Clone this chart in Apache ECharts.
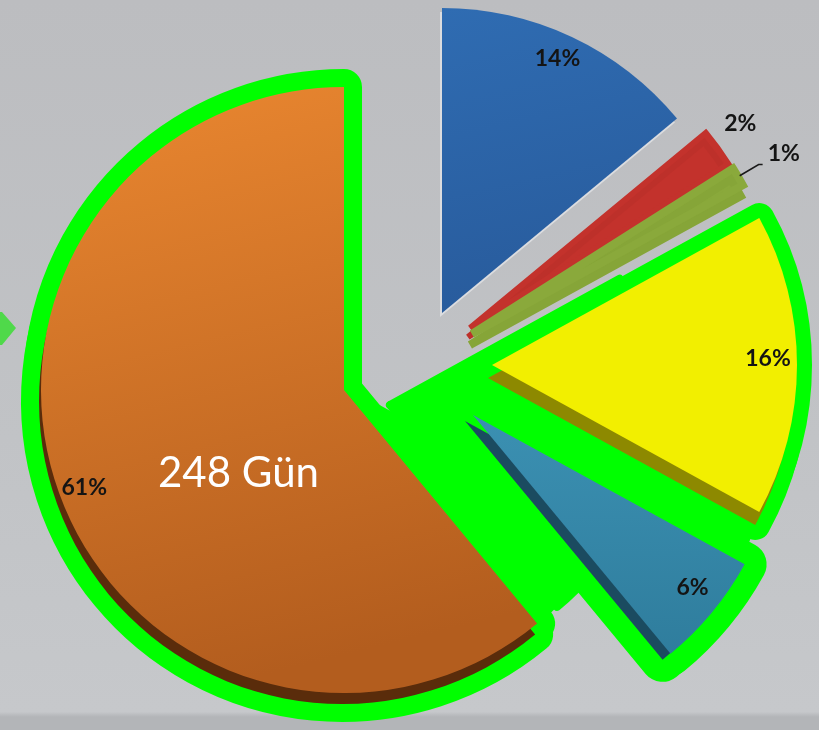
<!DOCTYPE html>
<html>
<head>
<meta charset="utf-8">
<script src="https://cdn.jsdelivr.net/npm/echarts@6/dist/echarts.min.js"></script>
<style>
html,body{margin:0;padding:0;width:819px;height:730px;overflow:hidden;
  background:linear-gradient(to bottom,#bcbdc0 0%,#c1c3c6 60%,#c6c8cb 97.5%,#b3b5b8 98.2%,#b3b5b8 100%);}
#chart{width:819px;height:730px;}
</style>
</head>
<body>
<div id="chart"></div>
<script>
// ---------- DATA ----------
const categories = ['Mavi', 'Kırmızı', 'Yeşil', 'Sarı', 'Turkuaz', 'Turuncu'];
const values = [14, 2, 1, 16, 6, 61];
const highlightedCategories = ['Sarı', 'Turkuaz', 'Turuncu'];
const annotationText = '248 Gün';

// ---------- LAYOUT / STYLE ----------
const sliceCenters = [[442, 313], [470, 328], [472, 334], [492, 365], [473, 415], [344, 390]];
const sliceRadii = [305, 306, 309, 305, 310, 303];
const labelDistances = [280, 336, 311, 276, 278, 272];
const labelOutside = [false, false, true, false, false, false];
const labelShifts = [[-5, 2], [-4, -5], [0, -11], [-3, -6], [3, -7], [-1, 4]];
const grad = (c1, c2, x2) => ({type: 'linear', x: 0, y: 0, x2: x2 || 0, y2: 1,
  colorStops: [{offset: 0, color: c1}, {offset: 1, color: c2}]});
const sliceColors = [
  grad('#2f6cb2', '#285b9c', 0.3), '#c3322c', '#8aa93b', '#f2ef00',
  grad('#3b90b2', '#2f7d9d'), grad('#ea8730', '#b35d1e', 0.3)
];
const sliceBorders = [0, 6, 8, 0, 0, 0];
const extrudeColors = ['rgba(222,223,226,0.9)', '#bd302a', '#86a538', '#8d8900', '#1b4b60', '#5a2c0b'];
const extrudeOffsets = [[-2, 4], [-2, 9], [-2, 11], [-4, 13], [-8, 6], [-2, 11]];
const glowColor = '#00ff00';
const glowWidths = [0, 0, 0, 30, 44, 36];
// bridges fill the green area between highlighted slices
const bridges = [
  {center: [390, 405], radius: 262, categories: ['Sarı', 'Turkuaz']},
  {centerOf: 'Turuncu', radius: 300, categories: ['Turkuaz']},
  {centerOf: 'Turkuaz', radius: 300, categories: ['Sarı']}
];
const labelFont = {fontFamily: 'Lato', fontWeight: 'bold', fontSize: 23, color: '#141414'};

const chart = echarts.init(document.getElementById('chart'), null, {renderer: 'canvas'});
const series = [];
const hidden = {color: 'transparent', borderWidth: 0};
const baseSeries = {
  type: 'pie', startAngle: 90, clockwise: true, silent: true,
  avoidLabelOverlap: false, emphasis: {disabled: true}, labelLine: {show: false},
  label: {show: false}, animation: false
};

// glow behind highlighted slices
categories.forEach((cat, i) => {
  if (!highlightedCategories.includes(cat)) return;
  series.push(Object.assign({}, baseSeries, {
    z: 1, center: sliceCenters[i], radius: [0, sliceRadii[i]],
    data: values.map((v, j) => ({
      name: categories[j], value: v,
      itemStyle: j === i ? {
        color: glowColor, borderColor: glowColor, borderWidth: glowWidths[i], borderJoin: 'round',
        shadowColor: glowColor, shadowBlur: 0,
        shadowOffsetX: extrudeOffsets[i][0], shadowOffsetY: extrudeOffsets[i][1]
      } : hidden
    }))
  }));
});
// bridge glows
bridges.forEach(b => {
  const c = b.center || sliceCenters[categories.indexOf(b.centerOf)];
  series.push(Object.assign({}, baseSeries, {
    z: 1, center: c, radius: [0, b.radius],
    data: values.map((v, j) => ({
      name: categories[j], value: v,
      itemStyle: b.categories.includes(categories[j]) ? {
        color: glowColor, borderColor: glowColor, borderWidth: 8, borderJoin: 'round'
      } : hidden
    }))
  }));
});

// slices
categories.forEach((cat, i) => {
  series.push(Object.assign({}, baseSeries, {
    z: 2, center: sliceCenters[i], radius: [0, sliceRadii[i]],
    data: values.map((v, j) => ({
      name: categories[j], value: v,
      itemStyle: j === i ? {
        color: sliceColors[i],
        borderWidth: sliceBorders[i], borderColor: sliceBorders[i] ? sliceColors[i] : 'transparent',
        borderJoin: 'miter',
        shadowColor: extrudeColors[i], shadowBlur: 0,
        shadowOffsetX: extrudeOffsets[i][0], shadowOffsetY: extrudeOffsets[i][1]
      } : hidden
    }))
  }));
});

// labels
categories.forEach((cat, i) => {
  const d = labelDistances[i];
  const outside = labelOutside[i];
  series.push(Object.assign({}, baseSeries, {
    z: 3, center: sliceCenters[i], radius: outside ? [0, d] : [d - 12, d + 12],
    labelLayout: {dx: labelShifts[i][0], dy: labelShifts[i][1]},
    data: values.map((v, j) => ({
      name: categories[j], value: v,
      itemStyle: hidden,
      label: j === i ? Object.assign({
        show: true, position: outside ? 'outside' : 'inside',
        formatter: p => p.percent + '%'
      }, labelFont) : {show: false},
      labelLine: j === i && outside ? {
        show: true, length: 22, length2: 4, smooth: false,
        lineStyle: {color: '#1a1a1a', width: 1.6}
      } : {show: false}
    }))
  }));
});

chart.setOption({
  backgroundColor: 'transparent',
  animation: false,
  series: series,
  graphic: [
    {type: 'polygon', z: 5, shape: {points: [[0, 312], [2, 312], [16, 328], [2, 345], [0, 345]]},
      style: {fill: '#4fd94a'}},
    {type: 'text', z: 10, left: 158, top: 452,
      style: {text: annotationText, fill: '#ffffff', font: '42px Lato, "Open Sans", sans-serif'}}
  ]
});
</script>
</body>
</html>
